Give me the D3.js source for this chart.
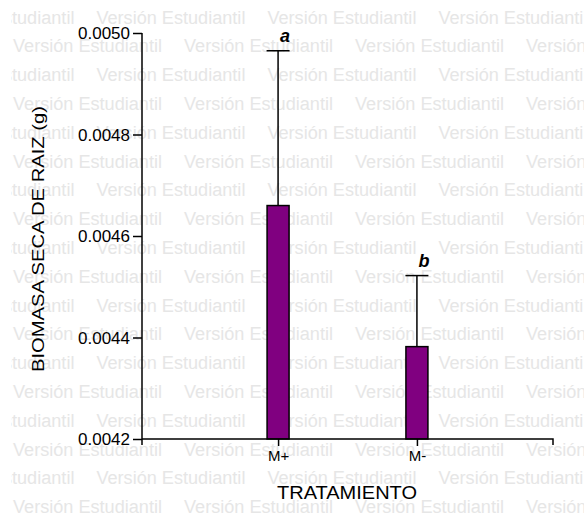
<!DOCTYPE html>
<html><head><meta charset="utf-8">
<script src="https://cdn.jsdelivr.net/npm/d3@7"></script>
<style>html,body{margin:0;padding:0;background:#fff}svg{display:block}</style>
</head><body>
<svg id="c" width="584" height="519"></svg>
<script>
const categories = ["M+", "M-"];
const means = [0.00466, 0.004382];
const errors = [0.000305, 0.00014];
const letters = ["a", "b"];
const yTicks = [0.0042, 0.0044, 0.0046, 0.0048, 0.0050];
const yLabel = "BIOMASA SECA DE RAIZ (g)";
const xLabel = "TRATAMIENTO";
const watermark = "Versión Estudiantil";

const svg = d3.select("#c");
const font = "'Liberation Sans', Arial, Helvetica, sans-serif";

// watermark (clipped at the left margin like the reference)
svg.append("clipPath").attr("id", "wmclip").append("rect")
  .attr("x", 11).attr("y", 0).attr("width", 600).attr("height", 519);
const wm = svg.append("g").attr("clip-path", "url(#wmclip)")
  .attr("fill", "#e6e6e6").attr("font-family", font).attr("font-size", 18);
const probe = wm.append("text").attr("x", 0).attr("y", -50)
  .attr("textLength", 149).attr("lengthAdjust", "spacingAndGlyphs").text(watermark);
const sub = probe.node().getSubStringLength(0, 10);
probe.remove();
for (let r = 0; r < 18; r++) {
  const yy = 23.5 + r * 28.8;
  const xs = r % 2 === 0 ? 12 - sub : 13;
  for (let k = 0; k < 5; k++) {
    wm.append("text").attr("x", xs + k * 171).attr("y", yy)
      .attr("textLength", 149).attr("lengthAdjust", "spacingAndGlyphs").text(watermark);
  }
}

const x0 = 142, x1 = 553, yTop = 33, yBot = 439;
const y = d3.scaleLinear().domain([0.0042, 0.0050]).range([yBot, yTop]);
const x = d3.scalePoint().domain(categories).range([x0, x1]).padding(0.98);

const g = svg.append("g");
const bw = 22;
categories.forEach((c, i) => {
  const cx = x(c);
  g.append("line").attr("x1", cx).attr("x2", cx).attr("y1", y(means[i])).attr("y2", y(means[i] + errors[i]))
    .attr("stroke", "#000").attr("stroke-width", 1.5);
  g.append("line").attr("x1", cx - 11.5).attr("x2", cx + 11.5).attr("y1", y(means[i] + errors[i])).attr("y2", y(means[i] + errors[i]))
    .attr("stroke", "#000").attr("stroke-width", 1.5);
  g.append("rect").attr("x", cx - bw / 2).attr("y", y(means[i])).attr("width", bw).attr("height", y(0.0042) - y(means[i]))
    .attr("fill", "#800080").attr("stroke", "#000").attr("stroke-width", 1.5);
  g.append("text").attr("x", cx + 7).attr("y", y(means[i] + errors[i]) - 9)
    .attr("text-anchor", "middle").attr("font-family", font).attr("font-size", 18)
    .attr("font-weight", "bold").attr("font-style", "italic").text(letters[i]);
});

const yAxis = d3.axisLeft(y).tickValues(yTicks).tickFormat(d3.format(".4f")).tickSize(9).tickSizeOuter(0).tickPadding(3);
const ya = svg.append("g").attr("transform", `translate(${x0},0)`).call(yAxis);
ya.select(".domain").attr("d", `M0,${yTop}V${yBot + 6}`);
ya.selectAll("line, path").attr("stroke", "#000").attr("stroke-width", 1.5);
ya.selectAll("text").attr("font-family", font).attr("font-size", 17).attr("fill", "#000").attr("dy", "0.35em");

const xAxis = d3.axisBottom(x).tickSize(7).tickSizeOuter(0).tickPadding(4);
const xa = svg.append("g").attr("transform", `translate(0,${yBot})`).call(xAxis);
xa.select(".domain").attr("d", `M${x0},0H${x1}V6`);
xa.selectAll("line, path").attr("stroke", "#000").attr("stroke-width", 1.5);
xa.selectAll("text").attr("font-family", font).attr("font-size", 15).attr("fill", "#000");

svg.append("text").attr("transform", "translate(44,239) rotate(-90)").attr("text-anchor", "middle")
  .attr("font-family", font).attr("font-size", 17).attr("textLength", 266).attr("lengthAdjust", "spacingAndGlyphs").text(yLabel);
svg.append("text").attr("x", 347).attr("y", 499).attr("text-anchor", "middle")
  .attr("font-family", font).attr("font-size", 18).attr("textLength", 140).attr("lengthAdjust", "spacingAndGlyphs").text(xLabel);
</script>
</body></html>
